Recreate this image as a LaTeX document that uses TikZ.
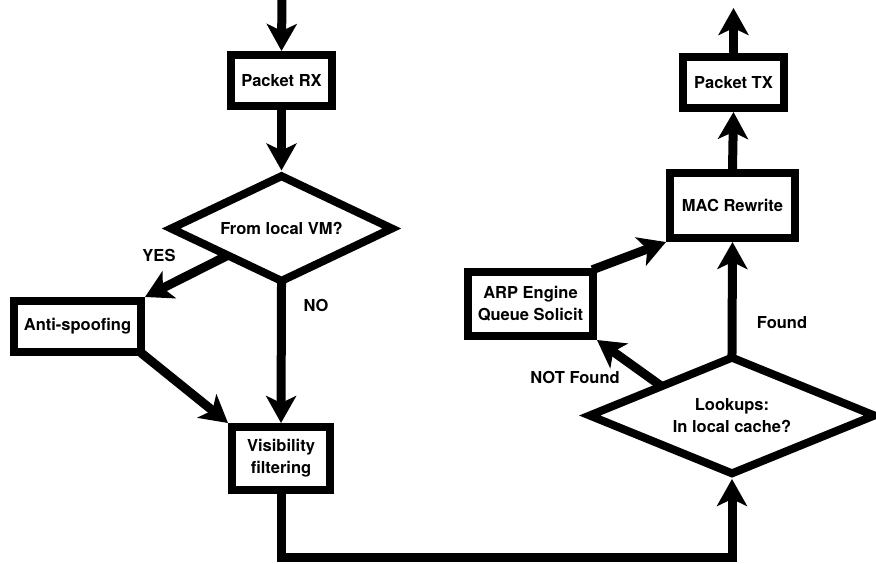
\documentclass[tikz,border=0pt]{standalone}
\usepackage{fontspec}
\setmainfont{TeX Gyre Heros}
\usetikzlibrary{arrows.meta,shapes.geometric}
\begin{document}
\begin{tikzpicture}
      [x=1pt,y=-1pt
      ,box/.style={draw,line width=8pt,inner sep=0pt,align=center,font=\fontsize{16.5}{22}\selectfont\bfseries}
      ,dec/.style={box,shape=diamond,aspect=2}
      ,flow/.style={line width=9pt,shorten <=-5pt,-{Stealth[length=27pt,width=30pt,inset=7pt]}}
      ,lab/.style={font=\fontsize{16.5}{22}\selectfont\bfseries}
      ]
        \useasboundingbox[fill=white] (0,0) rectangle (876,563);
        % left column
        \node[box,minimum width=101pt,minimum height=51pt] (rx) at (281.5,80.5) {Packet RX};
        \node[dec,minimum width=224pt,minimum height=108pt] (vm) at (281.5,228.5) {From local VM?};
        \node[box,minimum width=127pt,minimum height=51pt] (anti) at (77.5,326.5) {Anti-spoofing};
        \node[box,minimum width=98pt,minimum height=63pt] (vis) at (281,458.5) {Visibility\\filtering};
        % right column
        \node[dec,minimum width=288pt,minimum height=119pt] (look) at (732,415.5) {Lookups:\\In local cache?};
        \node[box,minimum width=125pt,minimum height=64pt] (arp) at (530.5,304) {ARP Engine\\Queue Solicit};
        \node[box,minimum width=125pt,minimum height=65pt] (mac) at (732.5,205.5) {MAC Rewrite};
        \node[box,minimum width=101pt,minimum height=51pt] (tx) at (733.5,82.5) {Packet TX};
        \coordinate (in) at (282,-5);
        \coordinate (out) at (733.5,8);
        \coordinate (low) at (0,557);

        \draw[flow] (in) -- (rx.north);
        \draw[flow] (rx.south) -- (vm.north);
        \draw[flow] (vm.south west) -- (anti.north east);
        \draw[flow] (vm.south) -- (vis.north);
        \draw[flow] (anti.south east) -- (vis.north west);
        \draw[flow] (vis.south) -- (vis.south |- low) -| (look.south);
        \draw[flow] (look.north west) -- (arp.south east);
        \draw[flow] (look.north) -- (mac.south);
        \draw[flow] (arp.north east) -- (mac.south west);
        \draw[flow] (mac.north) -- (tx.south);
        \draw[flow] (tx.north) -- (out);

        \node[lab] (yes) at (159,255) {YES};
        \node[lab] (no) at (316,305) {NO};
        \node[lab] (found) at (782,323) {Found};
        \node[lab] (notfound) at (575,377) {NOT Found};
      \end{tikzpicture}
\end{document}
